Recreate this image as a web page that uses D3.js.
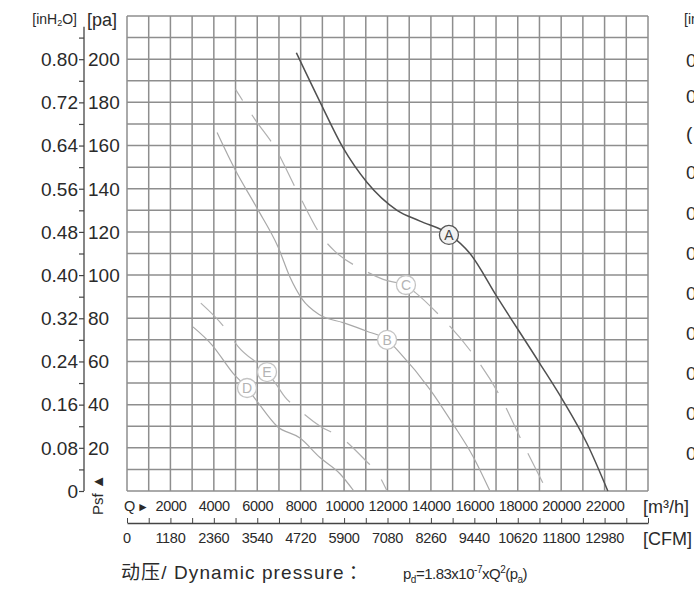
<!DOCTYPE html>
<html>
<head>
<meta charset="utf-8">
<script src="https://cdn.jsdelivr.net/npm/d3@7/dist/d3.min.js"></script>
<style>
  body { margin: 0; background: #fff; }
  svg { display: block; font-family: "Liberation Sans", Arial, sans-serif; }
</style>
</head>
<body>
<div id="chart"></div>
<script>
// fan curves, flow in m3/h, static pressure in pa
var curveA = [[7800,203],[8900,180],[9950,159],[11050,143],[12440,130],[13500,125],[14830,119],[15800,110],[17040,90],[19020,59],[20080,42],[21190,22],[22150,0]];
var curveB = [[4150,166],[4970,149],[5990,131],[6960,113],[7510,99],[8060,89],[8890,81.5],[9950,78],[11050,74],[11980,70],[12570,64],[13960,47],[15020,31],[15940,16],[16720,0]];
var curveC = [[5000,186],[5900,172],[6820,159],[7880,138],[9030,117],[9580,111],[10960,102],[11800,98],[12850,95],[13270,92],[14330,82],[15890,64],[17180,44],[18240,22],[19350,0]];
var curveD = [[3040,76],[3920,67.6],[4880,54.6],[5530,47.7],[6030,41],[6910,30],[7970,24.5],[8890,15.5],[9810,8],[10450,0]];
var curveE = [[3400,87],[4510,75.5],[5110,67],[6450,55],[6900,49],[7280,43.5],[7880,38],[8900,30],[9900,24.5],[11000,14],[11560,8],[11980,0]];

// label positions on each curve
var labelNames = ['A', 'B', 'C', 'D', 'E'];
var labelFlow = [14830, 11980, 12850, 5530, 6450];
var labelPa = [118.6, 70, 95.4, 47.7, 55.1];

// axis tick values and labels
var paTicks = [20, 40, 60, 80, 100, 120, 140, 160, 180, 200];
var inH2OTicks = [0, 20, 40, 60, 80, 100, 120, 140, 160, 180, 200];
var inH2OLabels = ['0', '0.08', '0.16', '0.24', '0.32', '0.40', '0.48', '0.56', '0.64', '0.72', '0.80'];
var flowTicks = [2000, 4000, 6000, 8000, 10000, 12000, 14000, 16000, 18000, 20000, 22000];
var cfmTicks = [0, 2000, 4000, 6000, 8000, 10000, 12000, 14000, 16000, 18000, 20000, 22000];
var cfmLabels = ['0', '1180', '2360', '3540', '4720', '5900', '7080', '8260', '9440', '10620', '11800', '12980'];
// clipped labels of the next chart at the right edge
var nextChartLabels = ['0.80', '0.72', '(', '0.56', '0.48', '0.40', '0.32', '0.24', '0.16', '0.08', '0'];
var nextChartY = [60, 96, 133, 172, 213, 253, 293, 333, 373, 413, 453];

var width = 694, height = 590;

var svg = d3.select('#chart')
    .append('svg')
    .attr('width', width)
    .attr('height', height);

var x = d3.scaleLinear()
    .domain([0, 24000])
    .range([127, 648]);

var y = d3.scaleLinear()
    .domain([0, 220])
    .range([491, 16]);

// grid
var grid = svg.append('g');
grid.selectAll('.vline')
    .data(d3.range(0, 24001, 1000))
    .enter()
    .append('line')
    .attr('x1', d => x(d)).attr('x2', d => x(d))
    .attr('y1', y(0)).attr('y2', y(220))
    .style('stroke', '#8e8e8e')
    .style('stroke-width', 1.5);

grid.selectAll('.hline')
    .data(d3.range(0, 221, 10))
    .enter()
    .append('line')
    .attr('x1', x(0)).attr('x2', x(24000))
    .attr('y1', d => y(d)).attr('y2', d => y(d))
    .style('stroke', '#8e8e8e')
    .style('stroke-width', 1.5);

// curves
var line = d3.line()
    .x(d => x(d[0]))
    .y(d => y(d[1]))
    .curve(d3.curveMonotoneX);

function drawCurve(data, color, w, dash, offset) {
    var p = svg.append('path')
        .datum(data)
        .attr('d', line)
        .style('fill', 'none')
        .style('stroke', color)
        .style('stroke-width', w);
    if (dash) {
        p.style('stroke-dasharray', dash)
         .style('stroke-dashoffset', offset);
    }
}

drawCurve(curveB, '#a8a8a8', 1.2);
drawCurve(curveD, '#a8a8a8', 1.2);
drawCurve(curveC, '#b0b0b0', 1.2, '33,17', 20);
drawCurve(curveE, '#b0b0b0', 1.2, '32,19', 0);
drawCurve(curveA, '#505050', 1.5);

// curve labels
labelNames.forEach(function(name, i) {
    var dark = name === 'A';
    var g = svg.append('g')
        .attr('transform', 'translate(' + x(labelFlow[i]) + ',' + y(labelPa[i]) + ')');
    g.append('circle')
        .attr('r', 9.5)
        .style('fill', dark ? '#f2f2f2' : '#fff')
        .style('stroke', dark ? '#555' : '#c4c4c4')
        .style('stroke-width', 1.3);
    g.append('text')
        .attr('text-anchor', 'middle')
        .attr('dy', '0.36em')
        .style('font-size', '14px')
        .style('fill', dark ? '#444' : '#b4b4b4')
        .text(name);
});

// left axis
var axisX = 84;
var leftAxis = svg.append('g')
    .attr('transform', 'translate(' + axisX + ',0)')
    .call(d3.axisLeft(y).tickValues(d3.range(0, 211, 10)).tickSize(5).tickFormat(''));
leftAxis.select('.domain').remove();
leftAxis.selectAll('.tick line').style('stroke', '#444').style('stroke-width', 1.2);

svg.append('line')
    .attr('x1', axisX).attr('x2', axisX)
    .attr('y1', y(215)).attr('y2', y(0))
    .style('stroke', '#444')
    .style('stroke-width', 1.3);

svg.selectAll('.inlab')
    .data(inH2OTicks)
    .enter()
    .append('text')
    .attr('x', 78)
    .attr('y', d => y(d))
    .attr('dy', '0.36em')
    .attr('text-anchor', 'end')
    .style('font-size', '19px')
    .style('fill', '#2a2a2a')
    .text((d, i) => inH2OLabels[i]);

svg.selectAll('.palab')
    .data(paTicks)
    .enter()
    .append('text')
    .attr('x', 88)
    .attr('y', d => y(d))
    .attr('dy', '0.36em')
    .style('font-size', '19px')
    .style('fill', '#2a2a2a')
    .text(d => d);

var unitIn = svg.append('text')
    .attr('x', 77).attr('y', 24)
    .attr('text-anchor', 'end')
    .style('font-size', '14px')
    .style('fill', '#2a2a2a');
unitIn.append('tspan').text('[inH');
unitIn.append('tspan').style('font-size', '9px').attr('dy', 2).text('2');
unitIn.append('tspan').attr('dy', -2).text('O]');

svg.append('text')
    .attr('x', 87).attr('y', 26)
    .style('font-size', '18px')
    .style('fill', '#2a2a2a')
    .text('[pa]');

svg.append('text')
    .attr('transform', 'translate(103,515) rotate(-90)')
    .style('font-size', '15px')
    .style('fill', '#2a2a2a')
    .text('Psf \u25B2');

// flow axis (m3/h)
var flowAxis = svg.append('g')
    .attr('transform', 'translate(0,500)')
    .call(d3.axisBottom(x).tickValues(flowTicks).tickSize(0).tickPadding(0).tickFormat(d3.format('d')));
flowAxis.select('.domain').remove();
flowAxis.selectAll('text')
    .attr('y', 6)
    .attr('dy', '0.36em')
    .style('font-size', '14.5px')
    .style('font-family', '"Liberation Sans", Arial, sans-serif')
    .style('letter-spacing', '-0.3px')
    .style('fill', '#2a2a2a');

svg.append('text')
    .attr('x', 124).attr('y', 511)
    .style('font-size', '14.5px')
    .style('fill', '#2a2a2a')
    .text('Q');
svg.append('text')
    .attr('x', 137).attr('y', 511)
    .style('font-size', '12px')
    .style('fill', '#2a2a2a')
    .text('\u25BA');

svg.append('text')
    .attr('x', 643).attr('y', 513)
    .style('font-size', '18px')
    .style('fill', '#2a2a2a')
    .text('[m\u00B3/h]');

// CFM axis
var cfmAxis = svg.append('g')
    .attr('transform', 'translate(0,523)')
    .call(d3.axisTop(x).tickValues(d3.range(0, 24001, 1000)).tickSize(5).tickSizeOuter(0).tickFormat(''));
cfmAxis.selectAll('.tick line').style('stroke', '#444');
cfmAxis.select('.domain').style('stroke', '#444').style('stroke-width', 1.3);

svg.selectAll('.cfmlab')
    .data(cfmTicks)
    .enter()
    .append('text')
    .attr('x', d => x(d))
    .attr('y', 538)
    .attr('dy', '0.36em')
    .attr('text-anchor', 'middle')
    .style('font-size', '14.5px')
    .style('letter-spacing', '-0.3px')
    .style('fill', '#2a2a2a')
    .text((d, i) => cfmLabels[i]);

svg.append('text')
    .attr('x', 643).attr('y', 545)
    .style('font-size', '18px')
    .style('fill', '#2a2a2a')
    .text('[CFM]');

// dynamic pressure note
var note = svg.append('text')
    .attr('x', 121).attr('y', 579)
    .style('font-size', '19px')
    .style('letter-spacing', '1.1px')
    .style('fill', '#2a2a2a');
note.append('tspan').style('font-family', '"Noto Sans CJK SC", sans-serif').text('动压');
note.append('tspan').text('/ Dynamic pressure');
note.append('tspan').attr('dx', 4).style('font-family', '"Noto Sans CJK SC", sans-serif').text('：');

var formula = svg.append('text')
    .attr('x', 403).attr('y', 579)
    .style('font-size', '15px')
    .style('letter-spacing', '-0.5px')
    .style('fill', '#2a2a2a');
formula.append('tspan').text('p');
formula.append('tspan').attr('dy', 4).style('font-size', '10px').text('d');
formula.append('tspan').attr('dy', -4).text('=1.83x10');
formula.append('tspan').attr('dy', -6).style('font-size', '10px').text('-7');
formula.append('tspan').attr('dy', 6).text('xQ');
formula.append('tspan').attr('dy', -6).style('font-size', '10px').text('2');
formula.append('tspan').attr('dy', 6).text('(p');
formula.append('tspan').attr('dy', 4).style('font-size', '10px').text('a');
formula.append('tspan').attr('dy', -4).text(')');

// edge of the neighbouring chart
svg.append('text')
    .attr('x', 684).attr('y', 24)
    .style('font-size', '14px')
    .style('fill', '#2a2a2a')
    .text('[inH2O]');
svg.selectAll('.nextlab')
    .data(nextChartLabels)
    .enter()
    .append('text')
    .attr('x', 686)
    .attr('y', (d, i) => nextChartY[i])
    .attr('dy', '0.36em')
    .style('font-size', '19px')
    .style('fill', '#2a2a2a')
    .text(d => d);
</script>
</body>
</html>
